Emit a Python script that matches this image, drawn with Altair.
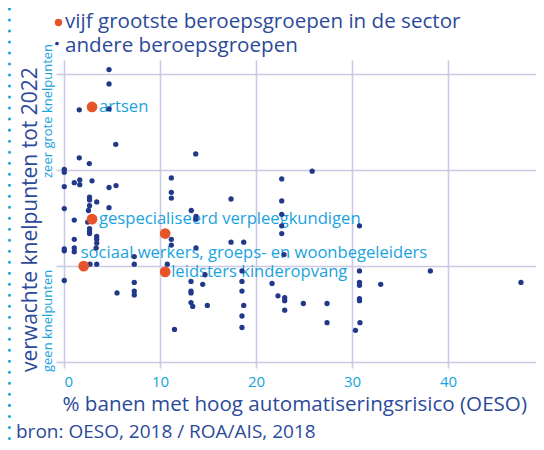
import altair as alt
import pandas as pd

# ---------------- data ----------------
blue_x = [4.69, 4.69, 1.59, 4.69, 5.39, 1.59, 2.64, 0.03, 0.03, 13.72,
          11.18, 22.68, 1.64, 1.64, 1.07, 2.92, 0.03, 4.69, 5.42, 11.18,
          11.18, 17.40, 22.68, 2.66, 2.66, 3.41, 2.66, 0.03, 4.69, 13.26,
          2.55, 1.07, 2.47, 2.66, 2.66, 2.66, 3.41, 3.41, 3.41, 3.35,
          1.07, 0.03, 0.03, 1.07, 1.07, 2.71, 3.41, 7.32, 7.32, 11.18,
          11.18, 13.75, 13.75, 13.75, 17.40, 18.72, 10.76, 14.69, 13.23, 14.45,
          13.23, 13.23, 13.23, 13.41, 14.93, 11.51, 18.54, 18.54, 18.54, 18.72,
          18.54, 18.54, 21.67, 22.29, 22.68, 22.68, 22.68, 22.92, 25.85, 30.78,
          22.99, 22.99, 22.99, 24.93, 27.40, 27.40, 30.78, 30.78, 30.78, 30.78,
          30.78, 30.83, 30.36, 32.99, 38.16, 47.60, 0.03, 5.52, 7.32, 7.32, 7.32]
blue_y = [3.05, 2.90, 2.63, 2.64, 2.27, 2.13, 2.07, 2.01, 1.98, 2.17,
          1.92, 1.91, 1.90, 1.85, 1.87, 1.89, 1.83, 1.82, 1.84, 1.77,
          1.71, 1.70, 1.68, 1.72, 1.69, 1.67, 1.63, 1.60, 1.61, 1.58,
          1.58, 1.48, 1.46, 1.39, 1.36, 1.34, 1.31, 1.28, 1.24, 1.19,
          1.28, 1.18, 1.16, 1.19, 1.15, 1.02, 1.02, 1.10, 1.02, 1.28,
          1.22, 1.52, 1.49, 1.19, 1.25, 1.25, 1.02, 0.91, 0.84, 0.81,
          0.74, 0.72, 0.62, 0.58, 0.59, 0.34, 0.95, 0.84, 0.74, 0.59,
          0.48, 0.36, 0.82, 0.69, 1.54, 1.42, 1.34, 1.12, 1.99, 1.42,
          0.67, 0.64, 0.54, 0.61, 0.61, 0.41, 0.95, 0.83, 0.80, 0.66,
          0.64, 0.41, 0.33, 0.81, 0.95, 0.83, 0.85, 0.72, 0.83, 0.74, 0.70]

orange_x = [2.92, 2.92, 2.05, 10.54, 10.54]
orange_y = [2.66, 1.49, 1.00, 1.34, 0.94]
orange_labels = ["artsen", "gespecialiseerd verpleegkundigen",
                 "sociaal werkers, groeps- en woonbegeleiders", "",
                 "leidsters kinderopvang"]

x_ticks = [0, 10, 20, 30, 40, 50]
y_ticks = [0, 1, 2, 3]

legend_labels = ["vijf grootste beroepsgroepen in de sector", "andere beroepsgroepen"]
y_title = "verwachte knelpunten tot 2022"
y_top_label = "zeer grote knelpunten"
y_bottom_label = "geen knelpunten"
x_title = "% banen met hoog automatiseringsrisico (OESO)"
source = "bron: OESO, 2018 / ROA/AIS, 2018"

# ---------------- style ----------------
FONT = "Open Sans"
DARK = "#2C4A9A"
NAVY = "#22388A"
ORANGE = "#E8542A"
CYAN = "#19A3DE"
GRID = "#CBC9E4"

# page position of plot origin (top-left)
PX0, PY0 = 64, 60
def px(v):
    return v - PX0
def py(v):
    return v - PY0

W = 472
xs = alt.Scale(domain=[0, W / 9.6], nice=False, zero=False)
ys = alt.Scale(domain=[0, 3.15], nice=False, zero=False)

blue_df = pd.DataFrame({"x": blue_x, "y": blue_y})
orange_df = pd.DataFrame({"x": orange_x, "y": orange_y, "label": orange_labels})

base_axes = alt.Chart(blue_df).mark_circle(size=0, opacity=0).encode(
    x=alt.X("x:Q", scale=xs,
            axis=alt.Axis(values=x_ticks, title=None, grid=True, domain=False,
                          tickSize=6, labelPadding=6, labelFontSize=15,
                          labelColor=CYAN, labelFont=FONT)),
    y=alt.Y("y:Q", scale=ys,
            axis=alt.Axis(values=y_ticks, title=None, grid=True, domain=False,
                          labels=False, tickSize=8)),
)

label_offsets = {
    "artsen": (7, 0),
    "gespecialiseerd verpleegkundigen": (7, 0),
    "sociaal werkers, groeps- en woonbegeleiders": (-3, -13),
    "leidsters kinderopvang": (6, 0),
}
label_layers = []
for lab, (dx, dy) in label_offsets.items():
    label_layers.append(
        alt.Chart(orange_df[orange_df["label"] == lab]).mark_text(
            align="left", baseline="middle", dx=dx, dy=dy, font=FONT,
            fontSize=16.6, color=CYAN).encode(
            x=alt.X("x:Q", scale=xs), y=alt.Y("y:Q", scale=ys), text="label:N")
    )

blue_pts = alt.Chart(blue_df).mark_circle(size=28, color=NAVY, opacity=1).encode(
    x=alt.X("x:Q", scale=xs), y=alt.Y("y:Q", scale=ys))
orange_pts = alt.Chart(orange_df).mark_circle(size=115, color=ORANGE, opacity=1).encode(
    x=alt.X("x:Q", scale=xs), y=alt.Y("y:Q", scale=ys))

one = pd.DataFrame({"a": [0]})

def txt(s, x, y, size, color, align="left", baseline="alphabetic", angle=0):
    kw = dict(align=align, baseline=baseline, font=FONT, fontSize=size, color=color)
    if angle:
        kw["angle"] = angle
    return alt.Chart(pd.DataFrame({"t": [s]})).mark_text(**kw).encode(
        x=alt.value(px(x)), y=alt.value(py(y)), text="t:N")

dots = alt.Chart(one).mark_rule(color=CYAN, strokeWidth=3, strokeDash=[0.01, 11],
                                strokeCap="round").encode(
    x=alt.value(px(9.5)), y=alt.value(py(-2)), y2=alt.value(py(452)))

leg_o = alt.Chart(one).mark_circle(size=55, color=ORANGE, opacity=1).encode(
    x=alt.value(px(58.5)), y=alt.value(py(22.5)))
leg_b = alt.Chart(one).mark_circle(size=14, color=NAVY, opacity=1).encode(
    x=alt.value(px(57)), y=alt.value(py(43.5)))

texts = [
    txt(legend_labels[0], 65, 28, 20.6, DARK),
    txt(legend_labels[1], 65, 52, 20.6, DARK),
    txt(y_title, 36.5, 372, 21, DARK, angle=270),
    txt(y_top_label, 51.5, 178, 13, CYAN, angle=270),
    txt(y_bottom_label, 51.5, 372, 13, CYAN, angle=270),
    txt(x_title, 62.5, 411, 20.6, DARK),
    txt(source, 16, 437.5, 19, DARK),
]

chart = alt.layer(base_axes, *label_layers, blue_pts, orange_pts, dots, leg_o, leg_b,
                  *texts).properties(
    width=W, height=302,
    autosize=alt.AutoSizeParams(type="none"),
    padding={"left": 56, "top": 52, "right": 0, "bottom": 80},
).configure_view(stroke=None).configure_axis(
    gridColor=GRID, gridWidth=1.6, tickColor=GRID, tickWidth=1.6, gridOpacity=1
)

chart.save("out.html", embed_options={"renderer": "svg", "actions": False})
